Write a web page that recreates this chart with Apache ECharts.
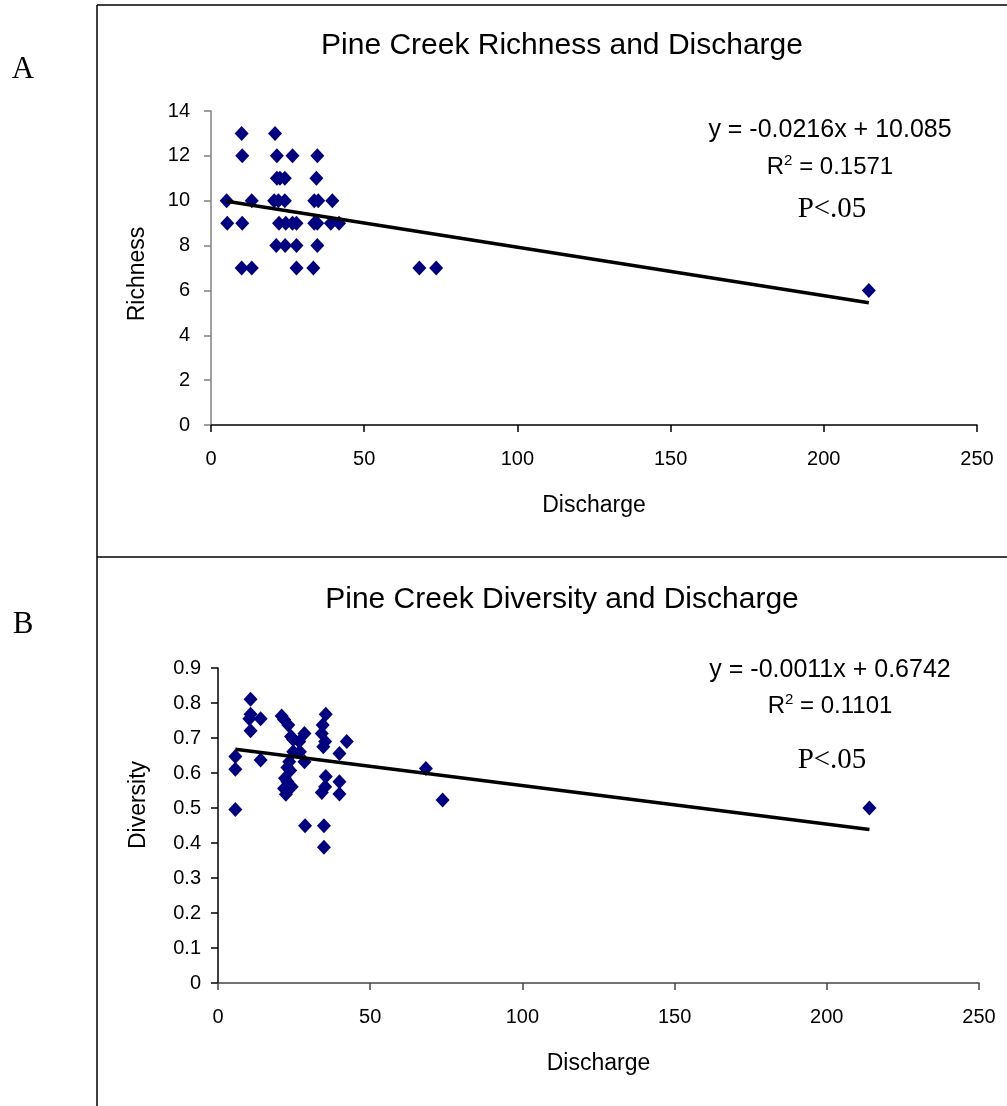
<!DOCTYPE html>
<html>
<head>
<meta charset="utf-8">
<style>
  html, body { margin: 0; padding: 0; background: #fff; }
  #chart { width: 1007px; height: 1106px; }
</style>
<script src="https://cdn.jsdelivr.net/npm/echarts@6/dist/echarts.min.js"></script>
</head>
<body>
<div id="chart"></div>
<script>
// Panel A: taxa richness against stream discharge
const richnessDischarge = [10.0, 20.9,
  10.2, 21.5, 26.6, 34.7,
  21.5, 22.5, 24.1, 34.4,
  5.1, 13.3, 20.6, 22.0, 24.1, 33.7, 35.0, 39.6,
  5.3, 10.2, 22.2, 24.4, 26.6, 27.9, 33.7, 34.7, 39.1, 41.8,
  21.3, 24.2, 27.9, 34.7,
  10.0, 13.3, 27.9, 33.4, 68.0, 73.5,
  214.7];
const richness = [13, 13,
  12, 12, 12, 12,
  11, 11, 11, 11,
  10, 10, 10, 10, 10, 10, 10, 10,
  9, 9, 9, 9, 9, 9, 9, 9, 9, 9,
  8, 8, 8, 8,
  7, 7, 7, 7, 7, 7,
  6];

// Panel B: Shannon diversity against stream discharge
const diversityDischarge = [10.7, 10.7, 10.3, 14.0, 10.7, 20.9, 21.7, 23.1, 24.0, 24.7,
  28.4, 26.7, 24.7, 26.9, 28.4, 23.4, 22.8, 23.7, 22.0, 22.8,
  24.2, 21.7, 22.3, 5.7, 5.7, 5.7, 14.0, 35.4, 34.4, 34.1,
  35.2, 34.6, 42.3, 39.9, 35.4, 39.9, 35.2, 34.1, 39.9, 28.6,
  34.8, 34.8, 68.3, 73.8, 214.0];
const diversity = [0.811, 0.768, 0.755, 0.755, 0.721, 0.763, 0.753, 0.737, 0.704, 0.696,
  0.713, 0.690, 0.661, 0.661, 0.632, 0.632, 0.616, 0.607, 0.585, 0.575,
  0.561, 0.556, 0.539, 0.647, 0.611, 0.496, 0.637, 0.768, 0.737, 0.713,
  0.690, 0.675, 0.690, 0.656, 0.590, 0.575, 0.561, 0.544, 0.540, 0.449,
  0.449, 0.388, 0.613, 0.523, 0.500];

// Linear fits as reported on each panel
const richnessFit = { slope: -0.0216, intercept: 10.085, r2: '0.1571' };
const diversityFit = { slope: -0.0011, intercept: 0.6742, r2: '0.1101' };

const xTicks = { min: 0, max: 250, interval: 50 };
const richnessTicks = { min: 0, max: 14, interval: 2 };
const diversityTicks = { min: 0, max: 0.9, interval: 0.1 };

const SANS = '"Liberation Sans", Arial, sans-serif';
const SERIF = '"Liberation Serif", "Times New Roman", serif';
const NAVY = '#000080';

function pairs(xs, ys) { return xs.map((x, i) => [x, ys[i]]); }
function fitLine(xs, fit) {
  const lo = Math.min(...xs), hi = Math.max(...xs);
  return [[lo, fit.intercept + fit.slope * lo], [hi, fit.intercept + fit.slope * hi]];
}
function eqString(fit) {
  const sign = fit.intercept >= 0 ? '+' : '-';
  return 'y = ' + fit.slope + 'x ' + sign + ' ' + Math.abs(fit.intercept);
}

function xAxisFor(gridIndex, lineColor) {
  return {
    gridIndex, type: 'value', min: xTicks.min, max: xTicks.max, interval: xTicks.interval,
    name: 'Discharge', nameLocation: 'middle', nameGap: 69,
    nameTextStyle: { fontFamily: SANS, fontSize: 23, color: '#000' },
    axisLine: { show: true, onZero: false, lineStyle: { color: lineColor, width: 1.5 } },
    axisTick: { show: true, inside: false, length: 7, lineStyle: { color: lineColor, width: 1.5 } },
    axisLabel: { fontFamily: SANS, fontSize: 20, color: '#000', margin: 24 },
    splitLine: { show: false }
  };
}
function yAxisFor(gridIndex, ticks, lineColor, margin) {
  return {
    gridIndex, type: 'value', min: ticks.min, max: ticks.max, interval: ticks.interval,
    axisLine: { show: true, onZero: false, lineStyle: { color: lineColor, width: 1.5 } },
    axisTick: { show: true, inside: false, length: 7, lineStyle: { color: lineColor, width: 1.5 } },
    axisLabel: { fontFamily: SANS, fontSize: 20, color: '#000', margin: margin,
      formatter: v => String(+v.toFixed(1)) },
    splitLine: { show: false }
  };
}

function textEl(x, y, text, font, rotation) {
  return { type: 'text', x, y, rotation: rotation || 0, style: {
    text, font, fill: '#000', align: 'center', verticalAlign: 'middle' } };
}
function r2El(x, y, value) {
  return { type: 'text', x, y, style: {
    text: '{a|R}{b|2}{a| = ' + value + '}', align: 'center', verticalAlign: 'middle',
    rich: {
      a: { fontFamily: SANS, fontSize: 24, fill: '#000', lineHeight: 28 },
      b: { fontFamily: SANS, fontSize: 15, fill: '#000', lineHeight: 15, verticalAlign: 'top' }
    } } };
}

const chart = echarts.init(document.getElementById('chart'), null, { renderer: 'canvas' });

chart.setOption({
  animation: false,
  backgroundColor: '#fff',
  title: [
    { text: 'Pine Creek Richness and Discharge', left: 557, top: 26, textAlign: 'center',
      textStyle: { fontFamily: SANS, fontSize: 30, fontWeight: 'normal', color: '#000' } },
    { text: 'Pine Creek Diversity and Discharge', left: 557, top: 580, textAlign: 'center',
      textStyle: { fontFamily: SANS, fontSize: 30, fontWeight: 'normal', color: '#000' } }
  ],
  grid: [
    { left: 211, right: 30, top: 111, bottom: 681, containLabel: false, outerBoundsMode: 'none' },
    { left: 218, right: 28, top: 668, bottom: 123, containLabel: false, outerBoundsMode: 'none' }
  ],
  xAxis: [xAxisFor(0, '#000'), xAxisFor(1, '#444')],
  yAxis: [
    yAxisFor(0, richnessTicks, '#808080', 21),
    yAxisFor(1, diversityTicks, '#000', 17)
  ],
  series: [
    { type: 'scatter', xAxisIndex: 0, yAxisIndex: 0, data: pairs(richnessDischarge, richness),
      symbol: 'diamond', symbolSize: [14, 15], itemStyle: { color: NAVY, opacity: 1 }, z: 2 },
    { type: 'line', xAxisIndex: 0, yAxisIndex: 0, data: fitLine(richnessDischarge, richnessFit),
      symbol: 'none', lineStyle: { color: '#000', width: 3.5 }, z: 3 },
    { type: 'scatter', xAxisIndex: 1, yAxisIndex: 1, data: pairs(diversityDischarge, diversity),
      symbol: 'diamond', symbolSize: [14, 15], itemStyle: { color: NAVY, opacity: 1 }, z: 2 },
    { type: 'line', xAxisIndex: 1, yAxisIndex: 1, data: fitLine(diversityDischarge, diversityFit),
      symbol: 'none', lineStyle: { color: '#000', width: 3.5 }, z: 3 }
  ],
  graphic: [
    // outer frame
    { type: 'line', shape: { x1: 97, y1: 5, x2: 1007, y2: 5 }, style: { stroke: '#000', lineWidth: 1.5 } },
    { type: 'line', shape: { x1: 97, y1: 5, x2: 97, y2: 1106 }, style: { stroke: '#000', lineWidth: 1.5 } },
    { type: 'line', shape: { x1: 97, y1: 557, x2: 1007, y2: 557 }, style: { stroke: '#000', lineWidth: 1.5 } },
    // panel letters
    textEl(23, 70, 'A', '31px ' + SERIF),
    textEl(23, 625, 'B', '31px ' + SERIF),
    // vertical axis titles
    textEl(138, 274, 'Richness', '23px ' + SANS, Math.PI / 2),
    textEl(139, 805, 'Diversity', '23px ' + SANS, Math.PI / 2),
    // regression annotations
    textEl(830, 130, eqString(richnessFit), '25px ' + SANS),
    r2El(830, 167, richnessFit.r2),
    textEl(832, 209, 'P<.05', '29px ' + SERIF),
    textEl(830, 670, eqString(diversityFit), '25px ' + SANS),
    r2El(830, 706, diversityFit.r2),
    textEl(832, 760, 'P<.05', '29px ' + SERIF)
  ]
});
</script>
</body>
</html>
